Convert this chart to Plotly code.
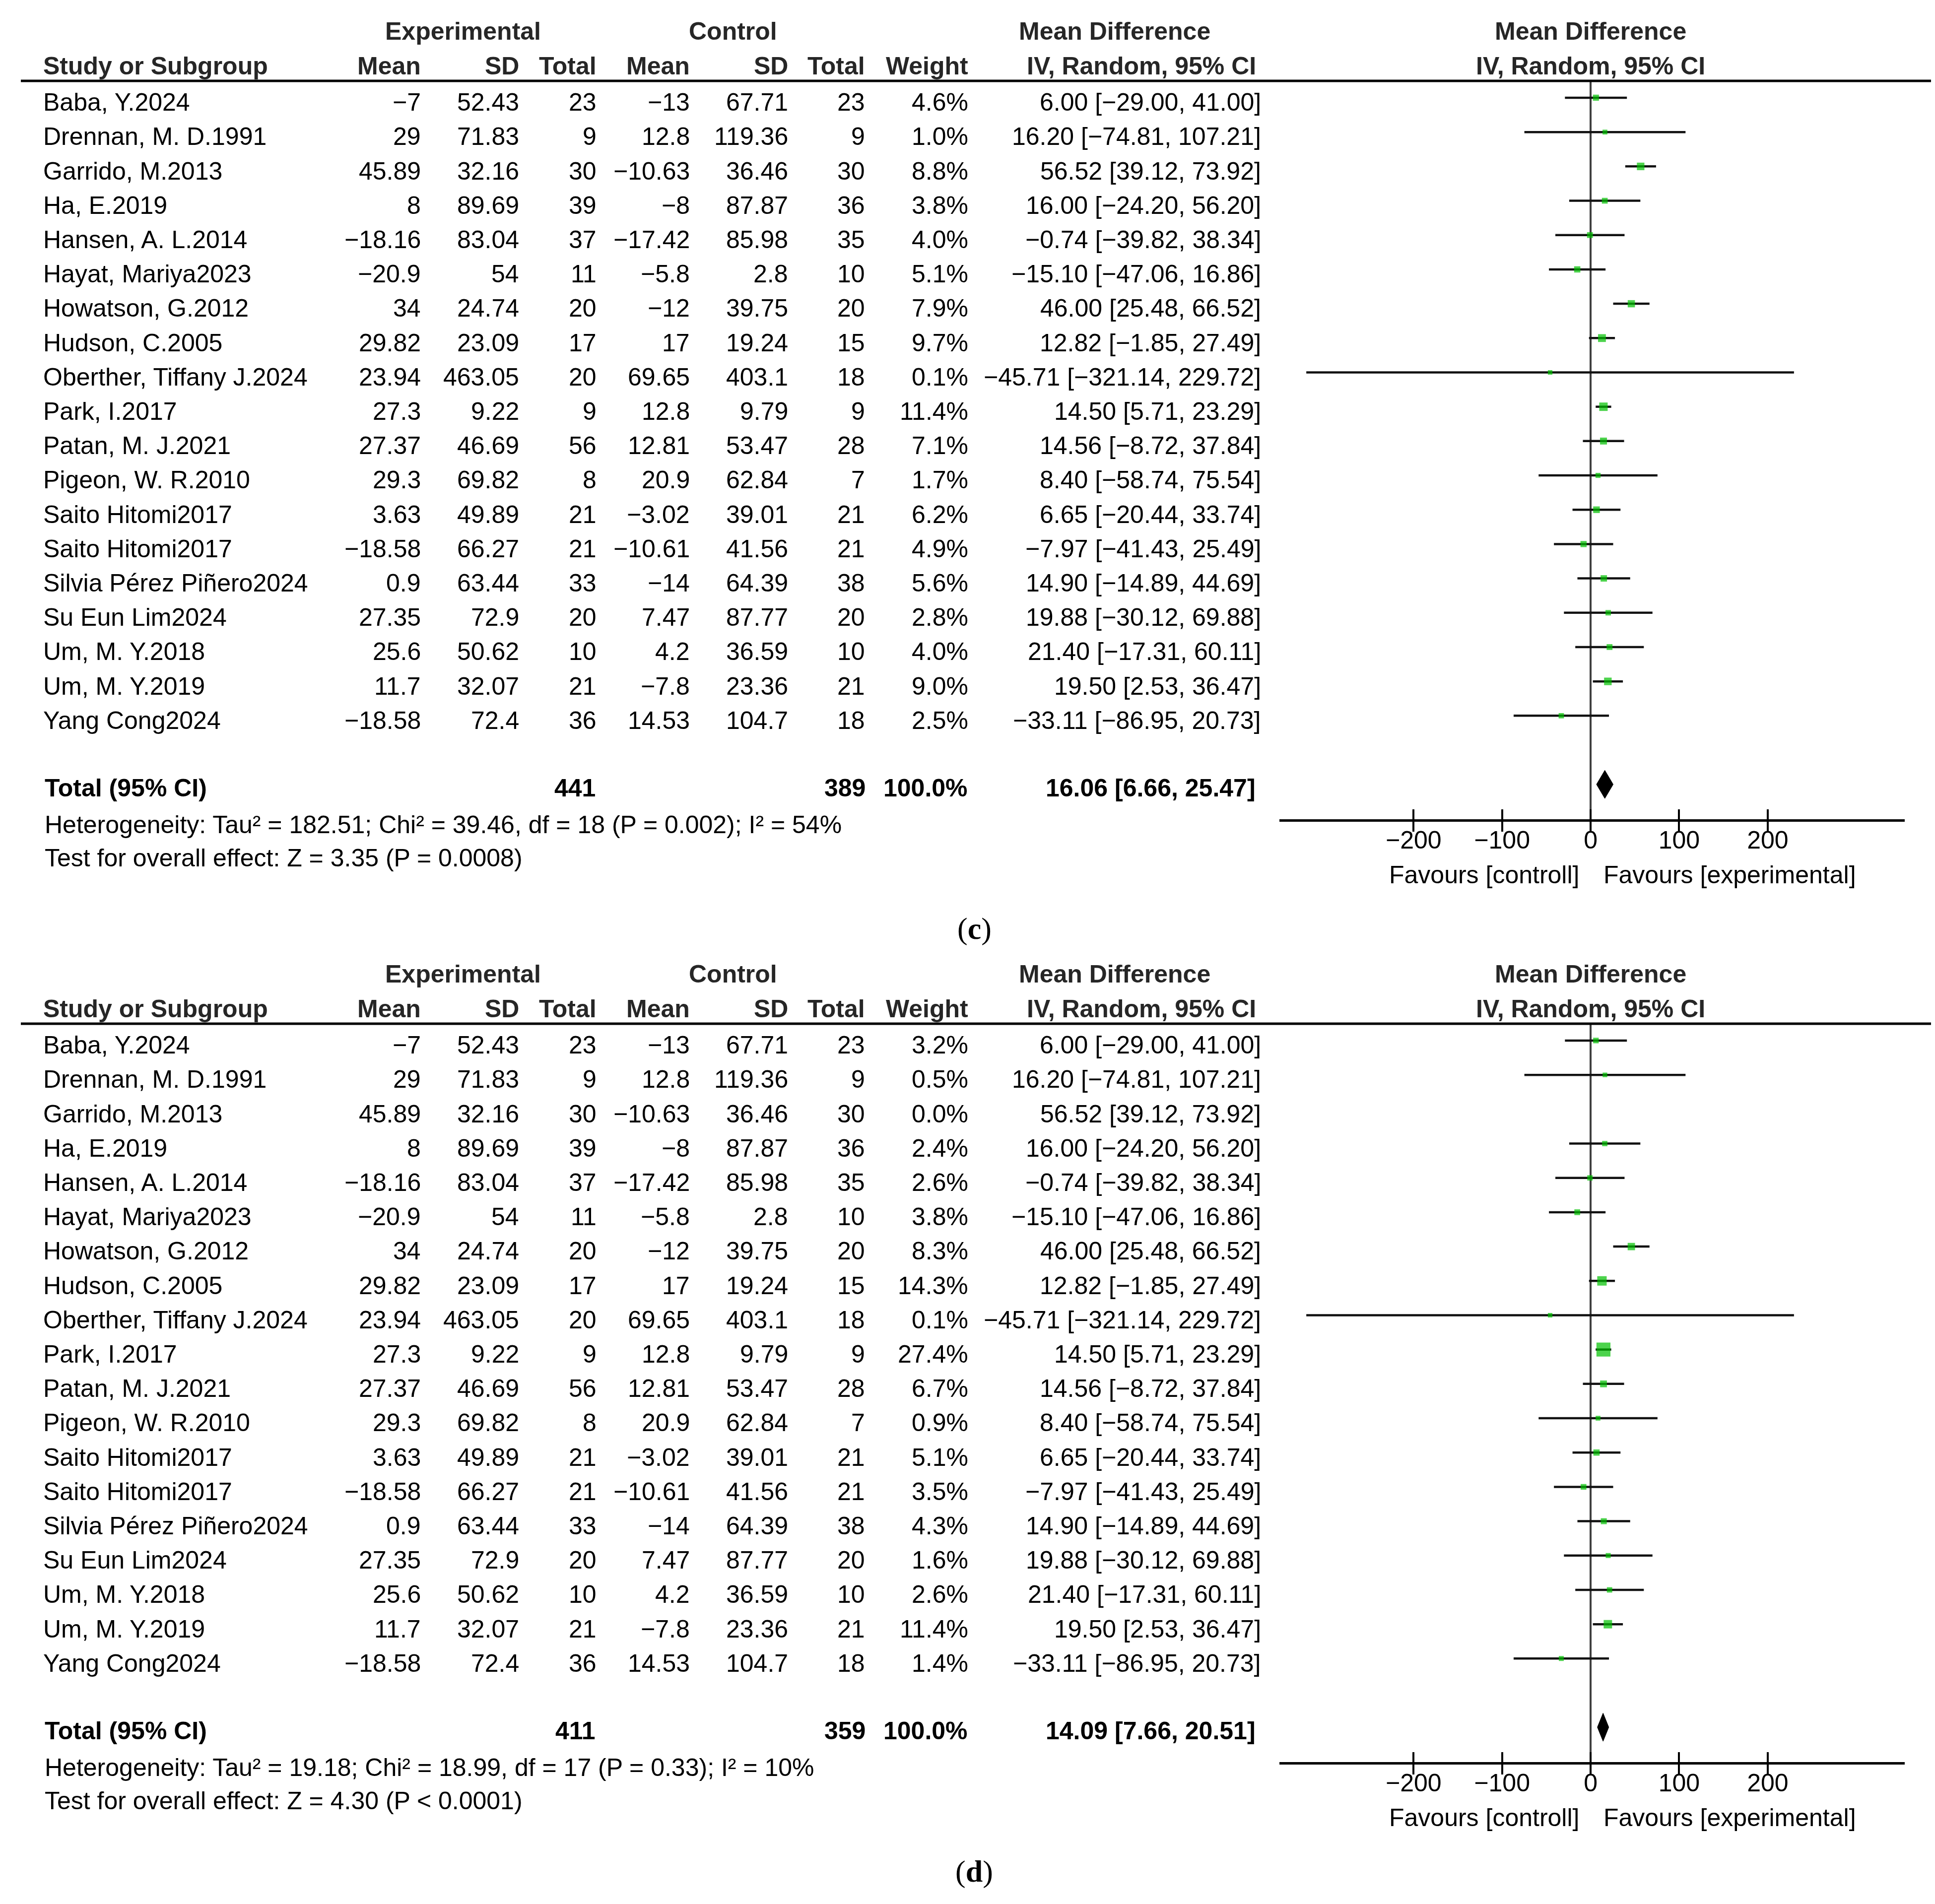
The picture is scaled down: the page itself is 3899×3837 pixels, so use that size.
import plotly.graph_objects as go

W, H = 3899, 3837

# ---------------- data ----------------
studies = ["Baba, Y.2024", "Drennan, M. D.1991", "Garrido, M.2013", "Ha, E.2019",
           "Hansen, A. L.2014", "Hayat, Mariya2023", "Howatson, G.2012", "Hudson, C.2005",
           "Oberther, Tiffany J.2024", "Park, I.2017", "Patan, M. J.2021", "Pigeon, W. R.2010",
           "Saito Hitomi2017", "Saito Hitomi2017", "Silvia Pérez Piñero2024", "Su Eun Lim2024",
           "Um, M. Y.2018", "Um, M. Y.2019", "Yang Cong2024"]
exp_mean = [-7, 29, 45.89, 8, -18.16, -20.9, 34, 29.82, 23.94, 27.3, 27.37, 29.3, 3.63,
            -18.58, 0.9, 27.35, 25.6, 11.7, -18.58]
exp_sd = [52.43, 71.83, 32.16, 89.69, 83.04, 54, 24.74, 23.09, 463.05, 9.22, 46.69, 69.82,
          49.89, 66.27, 63.44, 72.9, 50.62, 32.07, 72.4]
exp_n = [23, 9, 30, 39, 37, 11, 20, 17, 20, 9, 56, 8, 21, 21, 33, 20, 10, 21, 36]
ctl_mean = [-13, 12.8, -10.63, -8, -17.42, -5.8, -12, 17, 69.65, 12.8, 12.81, 20.9, -3.02,
            -10.61, -14, 7.47, 4.2, -7.8, 14.53]
ctl_sd = [67.71, 119.36, 36.46, 87.87, 85.98, 2.8, 39.75, 19.24, 403.1, 9.79, 53.47, 62.84,
          39.01, 41.56, 64.39, 87.77, 36.59, 23.36, 104.7]
ctl_n = [23, 9, 30, 36, 35, 10, 20, 15, 18, 9, 28, 7, 21, 21, 38, 20, 10, 21, 18]
md = [6.00, 16.20, 56.52, 16.00, -0.74, -15.10, 46.00, 12.82, -45.71, 14.50, 14.56, 8.40,
      6.65, -7.97, 14.90, 19.88, 21.40, 19.50, -33.11]
ci_lo = [-29.00, -74.81, 39.12, -24.20, -39.82, -47.06, 25.48, -1.85, -321.14, 5.71, -8.72,
         -58.74, -20.44, -41.43, -14.89, -30.12, -17.31, 2.53, -86.95]
ci_hi = [41.00, 107.21, 73.92, 56.20, 38.34, 16.86, 66.52, 27.49, 229.72, 23.29, 37.84,
         75.54, 33.74, 25.49, 44.69, 69.88, 60.11, 36.47, 20.73]
weight_c = [4.6, 1.0, 8.8, 3.8, 4.0, 5.1, 7.9, 9.7, 0.1, 11.4, 7.1, 1.7, 6.2, 4.9, 5.6, 2.8,
            4.0, 9.0, 2.5]
weight_d = [3.2, 0.5, 0.0, 2.4, 2.6, 3.8, 8.3, 14.3, 0.1, 27.4, 6.7, 0.9, 5.1, 3.5, 4.3, 1.6,
            2.6, 11.4, 1.4]
included_d = [True, True, False] + [True] * 16   # Garrido excluded from (d)

total_exp = [441, 411]
total_ctl = [389, 359]
total_md = [16.06, 14.09]
total_lo = [6.66, 7.66]
total_hi = [25.47, 20.51]
heterogeneity = ["Heterogeneity: Tau² = 182.51; Chi² = 39.46, df = 18 (P = 0.002); I² = 54%",
                 "Heterogeneity: Tau² = 19.18; Chi² = 18.99, df = 17 (P = 0.33); I² = 10%"]
overall = ["Test for overall effect: Z = 3.35 (P = 0.0008)",
           "Test for overall effect: Z = 4.30 (P < 0.0001)"]
panel_tags = ["c", "d"]
tick_vals = [-200, -100, 0, 100, 200]
x_range = [-351.5, 354.8]

# ---------------- styling ----------------
FONT = "Liberation Sans, Arial, sans-serif"
FS = 50
GREEN = "#00C000"


def fmt(v):
    return f"{v:g}".replace("-", "\u2212")


def fmt_ci(m, lo, hi):
    return f"{m:.2f} [{lo:.2f}, {hi:.2f}]".replace("-", "\u2212")


def px_x(p):
    return p / W


fig = go.Figure()
annotations = []
shapes = []

panel_px = [(155.0, 1643.3), (2055.0, 3543.3)]   # header line / axis line (pixel rows)
row_top, row_bottom = -0.491, 21.02
col_right = [842, 1040, 1196, 1384, 1582, 1737, 1945]
ci_right = 2535
TXT_DY = -0.06   # small upward nudge of text relative to the mark rows


def row_to_dom(r):
    # fraction of the (reversed) y-axis domain for a row coordinate
    return (row_bottom - r) / (row_bottom - row_top)


for p in range(2):
    tag = panel_tags[p]
    xa = "x" if p == 0 else "x2"
    ya = "y" if p == 0 else "y2"
    xo = "x3" if p == 0 else "x4"
    weights = weight_c if p == 0 else weight_d
    incl = [True] * len(studies) if p == 0 else included_d
    rows = list(range(len(studies)))

    # CI lines
    lx, ly = [], []
    for i in rows:
        if incl[i]:
            lx += [ci_lo[i], ci_hi[i], None]
            ly += [i, i, None]
    fig.add_trace(go.Scatter(x=lx, y=ly, mode="lines", xaxis=xa, yaxis=ya,
                             line=dict(color="#111111", width=4.5),
                             hoverinfo="skip", showlegend=False))
    # weight squares
    mx = [md[i] for i in rows if incl[i]]
    my = [i for i in rows if incl[i]]
    ms = [9 + 0.7 * weights[i] for i in rows if incl[i]]
    fig.add_trace(go.Scatter(x=mx, y=my, mode="markers", xaxis=xa, yaxis=ya,
                             marker=dict(symbol="square", color=GREEN, size=ms,
                                         line=dict(width=0)),
                             hoverinfo="skip", showlegend=False))
    # pooled diamond
    tr = len(studies) + 1
    h = 0.41
    fig.add_trace(go.Scatter(x=[total_lo[p], total_md[p], total_hi[p], total_md[p], total_lo[p]],
                             y=[tr, tr - h, tr, tr + h, tr], mode="lines", fill="toself",
                             fillcolor="black", line=dict(color="black", width=1),
                             xaxis=xa, yaxis=ya, hoverinfo="skip", showlegend=False))
    # empty trace so the overlay axis (upward ticks + labels) gets drawn
    fig.add_trace(go.Scatter(x=[None], y=[None], mode="markers", xaxis=xo, yaxis=ya,
                             hoverinfo="skip", showlegend=False))

    def ann(text, x, r, xanchor, xref="paper", bold=False, size=FS, color="#000000",
            family=FONT, xshift=0):
        annotations.append(dict(text=f"<b>{text}</b>" if bold else text, x=x,
                                y=row_to_dom(r + TXT_DY), xref=xref, yref=f"{ya} domain",
                                xanchor=xanchor, yanchor="middle",
                                showarrow=False, xshift=xshift,
                                font=dict(family=family, size=size, color=color)))

    hc = "#262626"
    # header row 1
    ann("Experimental", px_x(925), -1.871, "center", bold=True, color=hc)
    ann("Control", px_x(1469), -1.871, "center", bold=True, color=hc)
    ann("Mean Difference", px_x(2238), -1.871, "center", bold=True, color=hc)
    ann("Mean Difference", 0, -1.871, "center", xref=xa, bold=True, color=hc)
    # header row 2
    ann("Study or Subgroup", px_x(77), -0.867, "left", bold=True, color=hc)
    for txt, cx in zip(["Mean", "SD", "Total", "Mean", "SD", "Total", "Weight"], col_right):
        ann(txt, px_x(cx), -0.867, "right", bold=True, color=hc)
    ann("IV, Random, 95% CI", px_x(2525), -0.867, "right", bold=True, color=hc)
    ann("IV, Random, 95% CI", 0, -0.867, "center", xref=xa, bold=True, color=hc)

    # study rows
    for i in rows:
        yy = i + 0.195
        ann(studies[i], px_x(77), yy, "left")
        vals = [fmt(exp_mean[i]), fmt(exp_sd[i]), str(exp_n[i]), fmt(ctl_mean[i]),
                fmt(ctl_sd[i]), str(ctl_n[i]), f"{weights[i]:.1f}%"]
        for v, cx in zip(vals, col_right):
            ann(v, px_x(cx), yy, "right")
        ann(fmt_ci(md[i], ci_lo[i], ci_hi[i]), px_x(ci_right), yy, "right")

    # total row
    yt = tr + 0.16
    ann("Total (95% CI)", px_x(80), yt, "left", bold=True)
    ann(str(total_exp[p]), px_x(1194), yt, "right", bold=True)
    ann(str(total_ctl[p]), px_x(1738), yt, "right", bold=True)
    ann("100.0%", px_x(1944), yt, "right", bold=True)
    ann(fmt_ci(total_md[p], total_lo[p], total_hi[p]), px_x(2524), yt, "right", bold=True)
    ann(heterogeneity[p], px_x(80), tr + 1.23, "left")
    ann(overall[p], px_x(80), tr + 2.20, "left")

    # favours labels
    ann("Favours [controll]", 0, tr + 2.70, "right", xref=xa, xshift=-21)
    ann("Favours [experimental]", 0, tr + 2.70, "left", xref=xa, xshift=24)

    # panel label
    ann(f"(<b>{tag}</b>)", px_x(1955), tr + 4.26, "center",
        family="Liberation Serif, Times New Roman, serif", size=62)

    # thick header rule
    shapes.append(dict(type="line", xref="paper", yref=f"{ya} domain",
                       x0=px_x(34), x1=px_x(3890), y0=1, y1=1,
                       line=dict(color="black", width=5)))

    top_px, axis_px = panel_px[p]
    ydom = [1 - axis_px / H, 1 - top_px / H]
    xdom = [2570 / W, 3830 / W]
    xkey = "xaxis" if p == 0 else "xaxis2"
    ykey = "yaxis" if p == 0 else "yaxis2"
    okey = "xaxis3" if p == 0 else "xaxis4"
    # main axis: line, downward ticks, zero line
    fig.layout[xkey] = dict(domain=xdom, range=x_range, anchor=ya, showline=True,
                            linecolor="black", linewidth=5, ticks="outside", ticklen=20,
                            tickwidth=4, tickcolor="black", tickmode="array",
                            tickvals=tick_vals, showticklabels=False, showgrid=False,
                            zeroline=True, zerolinecolor="#404040", zerolinewidth=4,
                            fixedrange=True)
    # overlay axis: upward ticks + tick labels
    fig.layout[okey] = dict(overlaying=xa, anchor=ya, side="bottom", range=x_range,
                            ticks="inside", ticklen=20, tickwidth=4, tickcolor="black",
                            tickmode="array", tickvals=tick_vals, showticklabels=True,
                            showline=False, showgrid=False, zeroline=False, fixedrange=True,
                            tickfont=dict(family=FONT, size=FS, color="black"),
                            ticklabelstandoff=8)
    fig.layout[ykey] = dict(domain=ydom, range=[row_bottom, row_top], anchor=xa,
                            visible=False, showgrid=False, zeroline=False, fixedrange=True)

fig.update_layout(width=W, height=H, margin=dict(l=0, r=0, t=0, b=0),
                  paper_bgcolor="white", plot_bgcolor="white", showlegend=False,
                  annotations=annotations, shapes=shapes,
                  font=dict(family=FONT, size=FS, color="black"))

fig.write_html("out.html")
